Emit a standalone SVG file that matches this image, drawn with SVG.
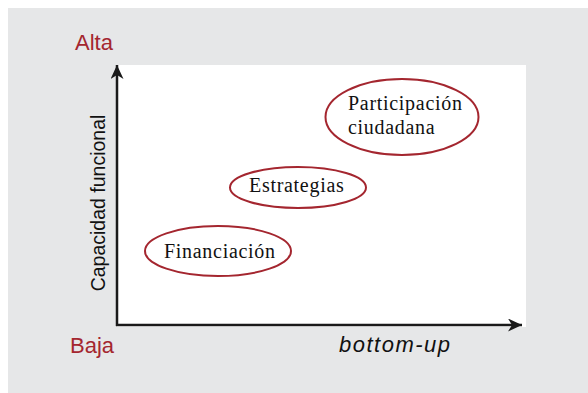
<svg xmlns="http://www.w3.org/2000/svg" width="588" height="393" viewBox="0 0 588 393">
<style>
.node ellipse{fill:#fff;stroke:#a4262f;stroke-width:2}
.lbl{font-family:"Liberation Serif",serif;font-size:20px;fill:#111;letter-spacing:0.7px}
.red{font-family:"Liberation Sans",sans-serif;font-size:22px;fill:#a4262f}
.ax{stroke:#1a1a1a;stroke-width:2.5;fill:none}
</style>
<defs>
<marker id="ah" markerWidth="15" markerHeight="13" refX="14" refY="6.5" orient="auto" markerUnits="userSpaceOnUse">
<path d="M0,0 L14,6.5 L0,13 L4,6.5 Z" fill="#1a1a1a"/>
</marker>
</defs>
<rect x="8" y="8" width="580" height="385" fill="#e6e7e8"/>
<rect x="117" y="65" width="409" height="262" fill="#fff"/>
<text class="red" x="75" y="50">Alta</text>
<text class="red" x="70" y="353">Baja</text>
<text x="339" y="352" font-family="Liberation Sans,sans-serif" font-style="italic" font-size="22" letter-spacing="1.5" fill="#111">bottom-up</text>
<text transform="translate(105,203) rotate(-90)" text-anchor="middle" font-family="Liberation Sans,sans-serif" font-size="19.5" fill="#111">Capacidad funcional</text>
<g id="connectors">
<line class="ax" x1="117" y1="326" x2="117" y2="65" marker-end="url(#ah)"/>
<line class="ax" x1="116" y1="325" x2="522" y2="325" marker-end="url(#ah)"/>
</g>
<g id="participacion" class="node">
<ellipse cx="402" cy="117" rx="76.5" ry="38"/>
<text class="lbl" x="348" y="110">Participación</text>
<text class="lbl" x="348" y="134">ciudadana</text>
</g>
<g id="estrategias" class="node">
<ellipse cx="298" cy="187.5" rx="68" ry="20.5"/>
<text class="lbl" x="249" y="192">Estrategias</text>
</g>
<g id="financiacion" class="node">
<ellipse cx="218" cy="251" rx="73" ry="25"/>
<text class="lbl" x="164" y="258">Financiación</text>
</g>
</svg>
